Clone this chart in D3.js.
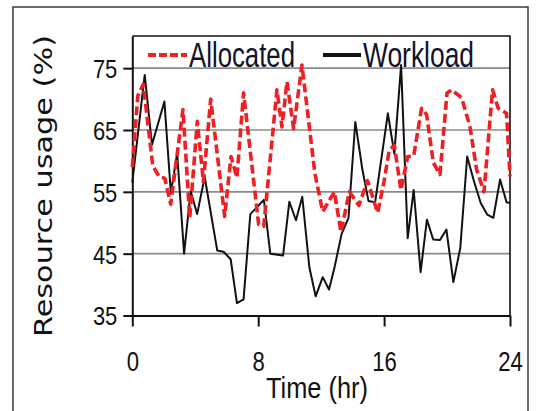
<!DOCTYPE html>
<html>
<head>
<meta charset="utf-8">
<script src="https://cdn.jsdelivr.net/npm/d3@7"></script>
<style>
  html, body { margin: 0; padding: 0; background: #fff; }
  svg { display: block; }
</style>
</head>
<body>
<div id="chart"></div>
<script>
// values (time in hours, usage in %)
var workloadTime = [0, 0.79, 1.25, 2.04, 2.45, 2.85, 3.29, 3.71, 4.12, 4.6, 5.4, 5.8, 6.25, 6.65, 7.07,
  7.5, 8.36, 8.77, 9.58, 9.98, 10.4, 10.8, 11.25, 11.65, 12.1, 12.5, 12.86, 13.3, 13.74, 14.17,
  14.62, 15.01, 15.43, 16.24, 16.65, 17.08, 17.5, 17.88, 18.32, 18.72, 19.12, 19.55, 19.96, 20.4,
  20.84, 21.28, 21.7, 22.14, 22.56, 22.94, 23.37, 23.78, 24]
var workloadValue = [56.5, 73.9, 62.6, 69.6, 54.8, 61.2, 45.0, 55.1, 51.4, 57.4, 45.5, 45.3, 44.1, 37.0, 37.6,
  51.4, 53.7, 45.0, 44.7, 53.4, 50.4, 54.2, 42.8, 38.1, 41.2, 39.2, 42.9, 48.2, 50.8, 66.3,
  58.6, 53.5, 53.3, 67.7, 61.2, 75.5, 47.5, 55.3, 42.0, 50.5, 47.3, 47.2, 48.9, 40.4,
  45.9, 60.7, 56.8, 53.2, 51.3, 50.8, 57.0, 53.3, 53.2]

var allocatedTime = [0, 0.35, 0.7, 1.3, 1.72, 2.06, 2.44, 3.22, 3.65, 4.13, 4.52, 4.98, 5.87, 6.27, 6.65,
  7.07, 8.03, 8.35, 9.19, 9.51, 9.83, 10.25, 10.78, 11.6, 12.1, 12.84, 13.26, 13.79, 14.4, 14.95,
  15.59, 16.0, 16.33, 16.65, 17.07, 17.5, 17.88, 18.38, 18.7, 19.13, 19.55, 20.0, 20.3, 20.93,
  21.45, 21.88, 22.35, 22.89, 23.25, 23.78, 24]
var allocatedValue = [59.0, 70.5, 72.4, 59.2, 57.4, 57.2, 53.0, 68.3, 50.8, 66.4, 56.6, 70.0, 51.0, 60.7, 57.3,
  71.0, 49.7, 49.4, 71.5, 65.5, 72.8, 65.2, 75.5, 58.0, 51.8, 55.0, 48.5, 55.0, 52.8, 56.8,
  51.6, 56.7, 61.8, 62.5, 55.3, 60.7, 60.8, 68.5, 67.5, 59.7, 57.8, 71.0, 71.5, 70.2,
  65.6, 58.6, 55.0, 71.5, 68.5, 67.7, 57.5]

var xTicks = [0, 8, 16, 24]
var yTicks = [35, 45, 55, 65, 75]
var seriesNames = ['Allocated', 'Workload']

var width = 544
var height = 411
var red = '#ee2024'
var narrow = '"Liberation Sans Narrow", "Liberation Sans", Arial, sans-serif'

var svg = d3
  .select('#chart')
  .append('svg')
  .attr('width', width)
  .attr('height', height)

// outer frame of the figure
svg
  .append('rect')
  .attr('x', 13)
  .attr('y', 7)
  .attr('width', 515)
  .attr('height', 430)
  .attr('fill', '#fff')
  .attr('stroke', '#3a3a3a')
  .attr('stroke-width', 1.5)

var x = d3.scaleLinear().domain([0, 24]).range([132.3, 510])
var y = d3.scaleLinear().domain([35, 80.2]).range([315.5, 36])

// horizontal grid
svg
  .append('g')
  .selectAll('line')
  .data(yTicks.slice(1))
  .enter()
  .append('line')
  .attr('x1', x(0))
  .attr('x2', x(24))
  .attr('y1', function(d) { return y(d) })
  .attr('y2', function(d) { return y(d) })
  .attr('stroke', '#8a8a8a')
  .attr('stroke-width', 1.6)

// top and right border of the plot
svg
  .append('path')
  .attr('d', 'M' + x(0) + ',' + y(80.2) + 'H' + x(24) + 'V' + y(35))
  .attr('fill', 'none')
  .attr('stroke', '#111')
  .attr('stroke-width', 1.6)

var yAxis = svg
  .append('g')
  .attr('transform', 'translate(' + x(0) + ',0)')
  .call(d3.axisLeft(y).tickValues(yTicks).tickSize(9).tickPadding(6).tickSizeOuter(0))

var xAxis = svg
  .append('g')
  .attr('transform', 'translate(0,' + y(35) + ')')
  .call(d3.axisBottom(x).tickValues(xTicks).tickSize(11).tickSizeOuter(0))

svg.selectAll('.domain, .tick line').attr('stroke', '#111').attr('stroke-width', 2)

yAxis
  .selectAll('text')
  .style('font-family', narrow)
  .style('font-size', '26px')
  .attr('fill', '#111')
  .attr('dy', '0.36em')
  .attr('textLength', function(d) { return String(d).length * 12.2 })
  .attr('lengthAdjust', 'spacingAndGlyphs')

xAxis
  .selectAll('text')
  .style('font-family', narrow)
  .style('font-size', '27px')
  .attr('fill', '#111')
  .attr('y', 46)
  .attr('dy', '0.36em')
  .attr('textLength', function(d) { return String(d).length * 12.3 })
  .attr('lengthAdjust', 'spacingAndGlyphs')

var line = d3
  .line()
  .x(function(d) { return x(d[0]) })
  .y(function(d) { return y(d[1]) })

svg
  .append('path')
  .datum(d3.zip(workloadTime, workloadValue))
  .attr('d', line)
  .attr('fill', 'none')
  .attr('stroke', '#111')
  .attr('stroke-width', 2)
  .attr('stroke-linejoin', 'round')

svg
  .append('path')
  .datum(d3.zip(allocatedTime, allocatedValue))
  .attr('d', line)
  .attr('fill', 'none')
  .attr('stroke', red)
  .attr('stroke-width', 3.6)
  .attr('stroke-dasharray', '9,4')
  .attr('stroke-linejoin', 'round')

// legend
var legend = svg.append('g')
legend
  .append('line')
  .attr('x1', 148).attr('x2', 187)
  .attr('y1', 55).attr('y2', 55)
  .attr('stroke', red)
  .attr('stroke-width', 4)
  .attr('stroke-dasharray', '8,3')
legend
  .append('line')
  .attr('x1', 323).attr('x2', 361)
  .attr('y1', 55).attr('y2', 55)
  .attr('stroke', '#111')
  .attr('stroke-width', 4)

legend
  .selectAll('text')
  .data(seriesNames)
  .enter()
  .append('text')
  .attr('x', function(d, i) { return i === 0 ? 189 : 363 })
  .attr('y', 66.5)
  .attr('textLength', function(d, i) { return i === 0 ? 106 : 111 })
  .attr('lengthAdjust', 'spacingAndGlyphs')
  .style('font-family', narrow)
  .style('font-size', '35px')
  .attr('fill', '#12122a')
  .text(function(d) { return d })

// axis titles
svg
  .append('text')
  .attr('x', 266)
  .attr('y', 398)
  .attr('textLength', 102)
  .attr('lengthAdjust', 'spacingAndGlyphs')
  .style('font-family', narrow)
  .style('font-size', '29px')
  .attr('fill', '#111')
  .text('Time (hr)')

svg
  .append('text')
  .attr('transform', 'translate(52,186) rotate(-90)')
  .attr('text-anchor', 'middle')
  .attr('textLength', 302)
  .attr('lengthAdjust', 'spacingAndGlyphs')
  .style('font-family', '"DejaVu Sans", Verdana, sans-serif')
  .style('font-size', '25px')
  .attr('fill', '#111')
  .text('Resource usage (%)')
</script>
</body>
</html>
